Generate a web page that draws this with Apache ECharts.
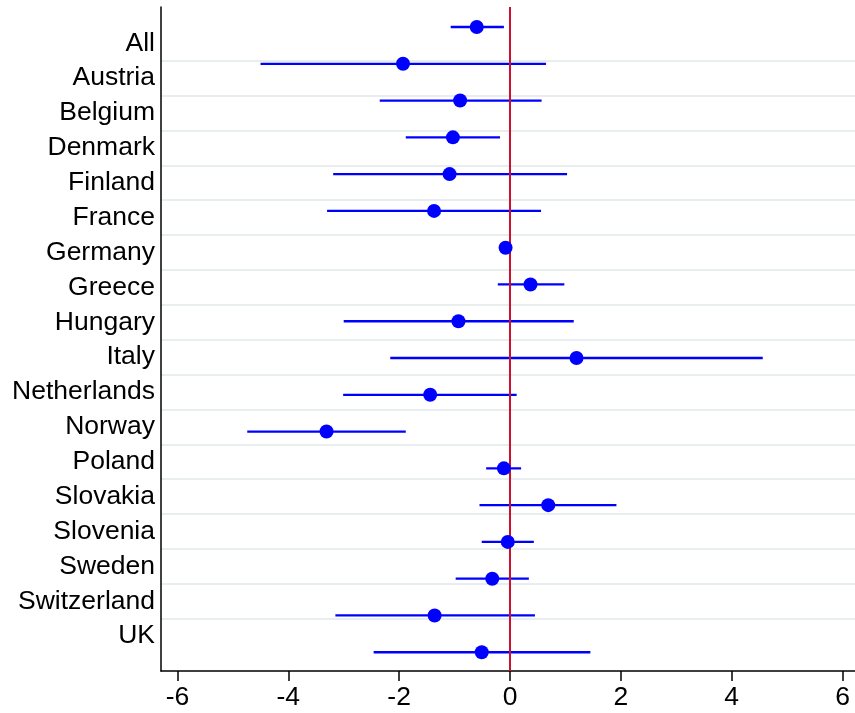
<!DOCTYPE html>
<html>
<head>
<meta charset="utf-8">
<script src="https://cdn.jsdelivr.net/npm/echarts@6/dist/echarts.min.js"></script>
<style>html,body{margin:0;padding:0;background:#fff}#c{width:855px;height:713px}</style>
</head>
<body>
<div id="c"></div>
<script>
const countries = ['All','Austria','Belgium','Denmark','Finland','France','Germany','Greece','Hungary','Italy','Netherlands','Norway','Poland','Slovakia','Slovenia','Sweden','Switzerland','UK'];
const estimates = [-0.60,-1.93,-0.90,-1.03,-1.09,-1.37,-0.08,0.37,-0.93,1.20,-1.44,-3.31,-0.11,0.69,-0.04,-0.32,-1.36,-0.51];
const ciLow  = [-1.07,-4.50,-2.35,-1.88,-3.19,-3.30,-0.18,-0.22,-3.00,-2.16,-3.01,-4.74,-0.43,-0.55,-0.51,-0.98,-3.15,-2.46];
const ciHigh = [-0.11,0.65,0.57,-0.18,1.03,0.56,0.03,0.98,1.15,4.56,0.12,-1.88,0.20,1.92,0.43,0.34,0.45,1.45];
const xTicks = [-6,-4,-2,0,2,4,6];

const chart = echarts.init(document.getElementById('c'), null, {renderer:'canvas'});
const font = 'Liberation Sans, Arial, Helvetica, sans-serif';
const blue = '#0000ff';

const pts = estimates.map((v,i)=>[v,i]);
const bars = countries.map((c,i)=>[ciLow[i], ciHigh[i], i]);

chart.setOption({
  animation:false,
  backgroundColor:'#fff',
  grid:[
    {left:161, right:0, top:7, bottom:42},
    {left:161, right:0, top:43.3, bottom:76.9}
  ],
  xAxis:[
    {gridIndex:0, type:'value', min:-6.296, max:6.224,
     axisLine:{show:true, onZero:false, lineStyle:{color:'#000', width:1.5}},
     axisTick:{show:true, length:10, customValues:xTicks, lineStyle:{color:'#000', width:1.5}},
     axisLabel:{show:true, customValues:xTicks, color:'#000', fontSize:26.5, fontFamily:font, margin:13},
     splitLine:{show:false}},
    {gridIndex:1, type:'value', min:-6.296, max:6.224, show:false}
  ],
  yAxis:[
    {gridIndex:0, type:'value', inverse:true, min:-0.544, max:17.51,
     axisLine:{show:true, onZero:false, lineStyle:{color:'#000', width:1.5}},
     axisTick:{show:false}, axisLabel:{show:false}, splitLine:{show:false}},
    {gridIndex:1, type:'value', inverse:true, min:0, max:17, interval:1,
     axisLine:{show:false}, axisTick:{show:false},
     axisLabel:{show:true, showMinLabel:true, showMaxLabel:true, color:'#000', fontSize:26.5, fontFamily:font, margin:6,
       padding:[3,0,0,0],
       formatter:function(v){ return countries[Math.round(v)] || ''; }},
     splitLine:{show:false},
     minorTick:{show:false, splitNumber:2},
     minorSplitLine:{show:true, lineStyle:{color:'#e8eef0', width:2}}}
  ],
  series:[
    {type:'custom', xAxisIndex:0, yAxisIndex:0, data:bars, z:2,
     renderItem:function(params, api){
       const a = api.coord([api.value(0), api.value(2)]);
       const b = api.coord([api.value(1), api.value(2)]);
       return {type:'line', shape:{x1:a[0], y1:a[1], x2:b[0], y2:b[1]},
               style:{stroke:blue, lineWidth:2.3}};
     },
     encode:{x:[0,1], y:2}},
    {type:'scatter', xAxisIndex:0, yAxisIndex:0, data:pts, symbol:'circle', symbolSize:14, z:4,
     itemStyle:{color:blue, opacity:1},
     markLine:{silent:true, symbol:'none', label:{show:false}, z:3,
       lineStyle:{color:'#cc1030', width:2, type:'solid', opacity:1},
       data:[{xAxis:0}]}}
  ]
});
</script>
</body>
</html>
